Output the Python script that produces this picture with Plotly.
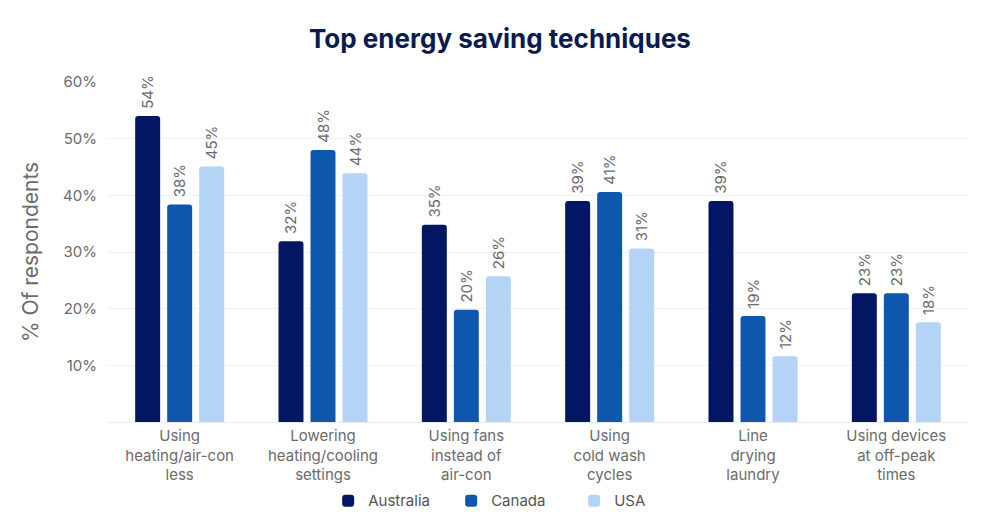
import plotly.graph_objects as go

categories = ["Using<br>heating/air-con<br>less", "Lowering<br>heating/cooling<br>settings",
              "Using fans<br>instead of<br>air-con", "Using<br>cold wash<br>cycles",
              "Line<br>drying<br>laundry", "Using devices<br>at off-peak<br>times"]
australia = [54.0, 31.9, 34.8, 39.0, 39.0, 22.7]
canada = [38.4, 48.0, 19.8, 40.6, 18.7, 22.7]
usa = [45.1, 43.9, 25.7, 30.6, 11.6, 17.6]
series_names = ["Australia", "Canada", "USA"]
colors = ["#021661", "#0F57AD", "#B4D4F6"]
y_ticks = [10, 20, 30, 40, 50, 60]
y_tick_text = ["10%", "20%", "30%", "40%", "50%", "60%"]

fig = go.Figure()
for name, vals, col in zip(series_names, [australia, canada, usa], colors):
    fig.add_trace(go.Bar(
        x=categories, y=vals, name=name,
        marker=dict(color=col, cornerradius=3, line=dict(width=0)),
        texttemplate=" %{y:.0f}%", textposition="outside", textangle=-90,
        constraintext="none",
        textfont=dict(family="Inter", size=15, color="#6b6b6b"),
        cliponaxis=False,
    ))

fig.update_layout(
    width=1000, height=525,
    margin=dict(l=108, r=32, t=82, b=103, autoexpand=False),
    paper_bgcolor="white", plot_bgcolor="white",
    barmode="group", bargap=0.33, bargroupgap=0.22,
    title=dict(text="<b>Top energy saving techniques</b>", x=0.5, xanchor="center",
               y=0.925, yanchor="middle",
               font=dict(family="Inter", size=26, color="#0B1A4F")),
    font=dict(family="Inter", color="#6b6b6b"),
    legend=dict(orientation="h", x=0.256, xanchor="left", y=-0.232, yanchor="middle",
                font=dict(size=15, color="#555555"), itemwidth=30, entrywidth=78,
                traceorder="normal"),
    showlegend=True,
)
fig.update_xaxes(showgrid=False, showline=True, linecolor="#ebebf2", linewidth=1,
                 tickfont=dict(size=15, color="#6b6b6b"), ticks="", ticklabelstandoff=0,
                 automargin=False)
fig.update_yaxes(range=[0, 60], tickvals=y_ticks, ticktext=y_tick_text,
                 showgrid=True, gridcolor="#f1f1f6", gridwidth=1, zeroline=False,
                 tickfont=dict(size=15, color="#6b6b6b"), ticks="", ticklabelstandoff=10,
                 automargin=False,
                 title=dict(text="% Of respondents", font=dict(size=21, color="#6b6b6b"),
                            standoff=18))

fig.write_html("out.html")
